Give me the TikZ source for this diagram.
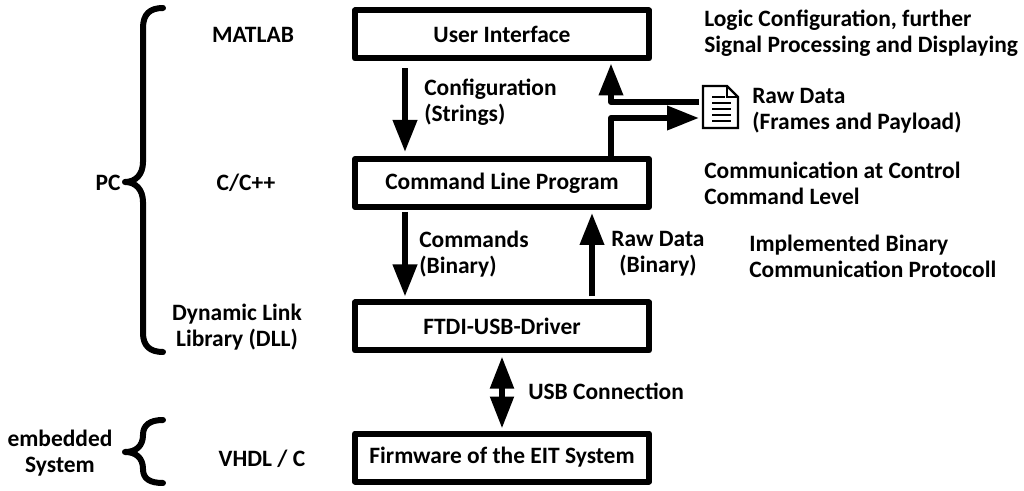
\documentclass[tikz,border=0pt]{standalone}
\usepackage{fontspec}
\setmainfont{Carlito}
\usetikzlibrary{arrows.meta,calc}
\tikzset{
  txt/.style={font=\fontsize{17.6}{19.6}\selectfont\bfseries, inner sep=0pt},
  blockbox/.style={draw, line width=4.5pt, line join=round, minimum width=220.5pt, minimum height=36pt, inner sep=0pt, txt},
  arr/.style={line width=4.5pt, line join=round, -{Triangle[length=24pt,width=17.5pt]}},
  dblarr/.style={line width=4.5pt, {Triangle[length=24pt,width=17pt]}-{Triangle[length=24pt,width=17pt]}},
  bracepath/.style={line width=4.5pt, line cap=round, line join=round},
}
\begin{document}
\begin{tikzpicture}[x=0.75pt,y=-0.75pt]
\useasboundingbox (0,0) rectangle (1024,491);
% boxes
\node[blockbox] (ui)   at (502,34.5) {User Interface};
\node[blockbox] (clp)  at (502,183)  {Command Line Program};
\node[blockbox] (ftdi) at (502,326.5) {FTDI-USB-Driver};
\node[blockbox] (fw)   at (502,457.5) {Firmware of the EIT System};
% document icon
\coordinate (docin) at (699,118);
\coordinate (docout) at (699,102);
\draw[line width=1.8pt, line join=miter] (703,86) -- (727,86) -- (738,97) -- (738,128) -- (703,128) -- cycle;
\draw[line width=1.2pt] (727,86) -- (727,97) -- (738,97);
\foreach \yy in {97,103,109,115,121} {
  \draw[line width=1.4pt] (712,\yy) -- (\ifnum\yy=97 725\else 731\fi,\yy);
}
% arrows
\draw[arr, shorten <=5.25pt, shorten >=3pt] ([xshift=-72.75pt]ui.south) -- ([xshift=-72.75pt]clp.north);
\draw[arr, shorten <=1.5pt, shorten >=2.25pt] ([xshift=-72.75pt]clp.south) -- ([xshift=-72.75pt]ftdi.north);
\draw[arr, shorten <=2.25pt, shorten >=2.25pt] ([xshift=67.5pt]ftdi.north) -- ([xshift=67.5pt]clp.south);
\draw[dblarr, shorten <=2.25pt, shorten >=1.5pt] (ftdi.south) -- (fw.north);
\draw[arr] ([xshift=81.75pt]clp.north) |- (docin);
\draw[arr, shorten >=1.5pt] (docout) -| ([xshift=81.75pt]ui.south);
% braces
\draw[bracepath] (163,8) .. controls (150,8) and (143,14) .. (143,28) -- (143,162)
   .. controls (143,174) and (136,182) .. (125,182)
   .. controls (136,182) and (143,190) .. (143,202) -- (143,333)
   .. controls (143,346) and (150,352) .. (163,352);
\draw[bracepath] (163,420) .. controls (150,420) and (143,425) .. (143,435)
   .. controls (143,446) and (136,452) .. (125,452)
   .. controls (136,452) and (143,458) .. (143,469)
   .. controls (143,479) and (150,483) .. (163,483);
% labels
\node[txt] (lpc) at (108,183) {PC};
\node[txt, align=center] (lemb) at (60,453) {embedded\\System};
\node[txt] (lmat) at (253,35) {MATLAB};
\node[txt] (lcpp) at (246,183) {C/C++};
\node[txt, align=center] (ldll) at (237,327) {Dynamic Link\\Library (DLL)};
\node[txt] (lvhdl) at (262,459) {VHDL / C};
\node[txt, align=left, anchor=west] (lconf) at (424,102) {Configuration\\(Strings)};
\node[txt, align=left, anchor=west] (lcmd) at (419,254) {Commands\\(Binary)};
\node[txt, align=center] (lraw) at (658,254) {Raw Data\\(Binary)};
\node[txt, anchor=west] (lusb) at (528,391) {USB Connection};
\node[txt, align=left, anchor=west] (llogic) at (704,33) {Logic Configuration, further\\Signal Processing and Displaying};
\node[txt, align=left, anchor=west] (lrawf) at (752,111) {Raw Data\\(Frames and Payload)};
\node[txt, align=left, anchor=west] (lcomm) at (704,183) {Communication at Control\\Command Level};
\node[txt, align=left, anchor=west] (limpl) at (749,256) {Implemented Binary\\Communication Protocoll};
\end{tikzpicture}
\end{document}
